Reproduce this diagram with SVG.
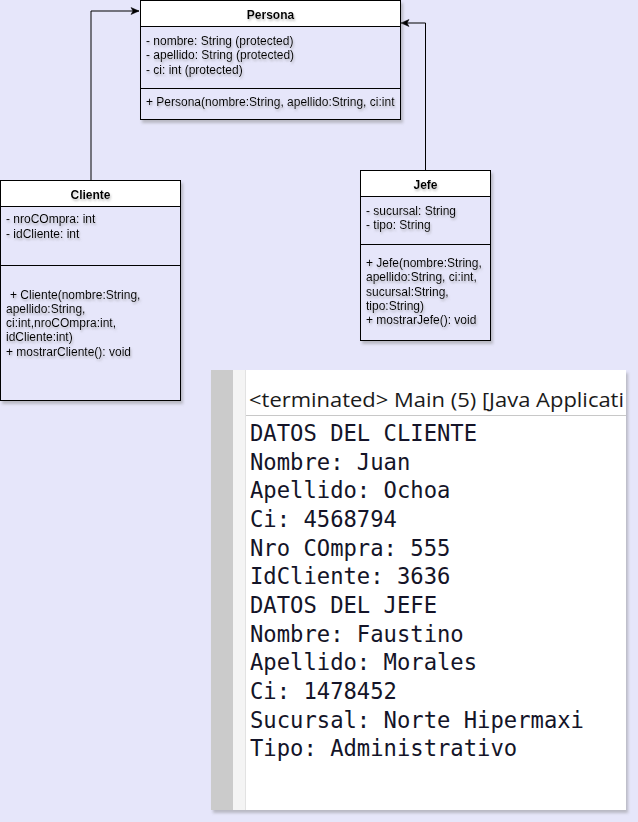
<svg xmlns="http://www.w3.org/2000/svg" width="638" height="822" viewBox="0 0 638 822">
<defs>
<style>
.box{fill:#E6E6FA;stroke:#000;stroke-width:1}
.hdr{fill:#fff;stroke:#000;stroke-width:1}
.sep{stroke:#000;stroke-width:1}
.t{font-family:"Liberation Sans",Arial,sans-serif;font-size:12px;fill:#000}
.ttl{font-family:"Liberation Sans",Arial,sans-serif;font-size:12px;font-weight:bold;fill:#000;text-anchor:middle}
.con{font-family:"DejaVu Sans Mono","Liberation Mono",monospace;font-size:22.2px;fill:#141428}
.edge{fill:none;stroke:#000;stroke-width:1}
</style>
<filter id="sh" x="-10%" y="-10%" width="130%" height="130%">
<feDropShadow dx="2" dy="3" stdDeviation="1.5" flood-color="#808080" flood-opacity="0.45"/>
</filter>
<filter id="tsh" x="-5%" y="-20%" width="115%" height="160%">
<feDropShadow dx="1" dy="2" stdDeviation="0.8" flood-color="#808080" flood-opacity="0.5"/>
</filter>
<marker id="arr" markerWidth="10" markerHeight="10" refX="9" refY="5" orient="auto" markerUnits="userSpaceOnUse">
<path d="M1,1.5 L9,5 L1,8.5 L3,5 Z" fill="#000" stroke="#000" stroke-width="0.5"/>
</marker>
<clipPath id="scr"><rect x="211" y="370" width="415" height="440"/></clipPath>
</defs>
<rect x="0" y="0" width="638" height="822" fill="#E6E6FA"/>

<g id="connectors">
<path class="edge" d="M91,180 L91,11 L139,11" marker-end="url(#arr)"/>
<path class="edge" d="M425.5,170 L425.5,23 L401,23" marker-end="url(#arr)"/>
</g>

<g id="persona">
<g filter="url(#sh)">
<rect class="box" x="140.5" y="0.5" width="260" height="119"/>
<rect class="hdr" x="140.5" y="0.5" width="260" height="26"/>
<line class="sep" x1="140.5" y1="88.5" x2="400.5" y2="88.5"/>
</g>
<g filter="url(#tsh)">
<text class="ttl" x="270.5" y="19">Persona</text>
<text class="t" x="146" y="45">- nombre: String (protected)</text>
<text class="t" x="146" y="59">- apellido: String (protected)</text>
<text class="t" x="146" y="74">- ci: int (protected)</text>
<text class="t" x="146" y="106">+ Persona(nombre:String, apellido:String, ci:int</text>
</g>
</g>

<g id="cliente">
<g filter="url(#sh)">
<rect class="box" x="0.5" y="180.5" width="180" height="220"/>
<rect class="hdr" x="0.5" y="180.5" width="180" height="26"/>
<line class="sep" x1="0.5" y1="265.5" x2="180.5" y2="265.5"/>
</g>
<g filter="url(#tsh)">
<text class="ttl" x="90.5" y="199">Cliente</text>
<text class="t" x="6" y="223">- nroCOmpra: int</text>
<text class="t" x="6" y="238">- idCliente: int</text>
<text class="t" x="10" y="299">+ Cliente(nombre:String,</text>
<text class="t" x="6" y="313">apellido:String,</text>
<text class="t" x="6" y="327">ci:int,nroCOmpra:int,</text>
<text class="t" x="6" y="341">idCliente:int)</text>
<text class="t" x="6" y="356">+ mostrarCliente(): void</text>
</g>
</g>

<g id="jefe">
<g filter="url(#sh)">
<rect class="box" x="360.5" y="170.5" width="130" height="170"/>
<rect class="hdr" x="360.5" y="170.5" width="130" height="26"/>
<line class="sep" x1="360.5" y1="244.5" x2="490.5" y2="244.5"/>
</g>
<g filter="url(#tsh)">
<text class="ttl" x="425.5" y="189">Jefe</text>
<text class="t" x="366" y="215">- sucursal: String</text>
<text class="t" x="366" y="229">- tipo: String</text>
<text class="t" x="366" y="267">+ Jefe(nombre:String,</text>
<text class="t" x="366" y="281">apellido:String, ci:int,</text>
<text class="t" x="366" y="296">sucursal:String,</text>
<text class="t" x="366" y="310">tipo:String)</text>
<text class="t" x="366" y="324">+ mostrarJefe(): void</text>
</g>
</g>

<g id="console">
<rect x="211" y="370" width="415" height="440" fill="#fff" filter="url(#sh)"/>
<g clip-path="url(#scr)">
<rect x="211" y="370" width="22" height="440" fill="#CBCBCB"/>
<rect x="233" y="370" width="12" height="440" fill="#F4F4F4"/>
<line x1="245.5" y1="370" x2="245.5" y2="810" stroke="#E2E2E2" stroke-width="1"/>
<line x1="246" y1="415.5" x2="626" y2="415.5" stroke="#C8C8C8" stroke-width="1"/>
<text x="249" y="407" font-family="'Open Sans','Liberation Sans',sans-serif" font-size="20.5" fill="#1a1a1a" textLength="375" lengthAdjust="spacingAndGlyphs">&lt;terminated&gt; Main (5) [Java Applicati</text>
<text class="con" x="250" y="441">DATOS DEL CLIENTE</text>
<text class="con" x="250" y="470">Nombre: Juan</text>
<text class="con" x="250" y="498">Apellido: Ochoa</text>
<text class="con" x="250" y="527">Ci: 4568794</text>
<text class="con" x="250" y="556">Nro COmpra: 555</text>
<text class="con" x="250" y="584">IdCliente: 3636</text>
<text class="con" x="250" y="613">DATOS DEL JEFE</text>
<text class="con" x="250" y="642">Nombre: Faustino</text>
<text class="con" x="250" y="670">Apellido: Morales</text>
<text class="con" x="250" y="699">Ci: 1478452</text>
<text class="con" x="250" y="728">Sucursal: Norte Hipermaxi</text>
<text class="con" x="250" y="756">Tipo: Administrativo</text>
</g>
</g>
</svg>
